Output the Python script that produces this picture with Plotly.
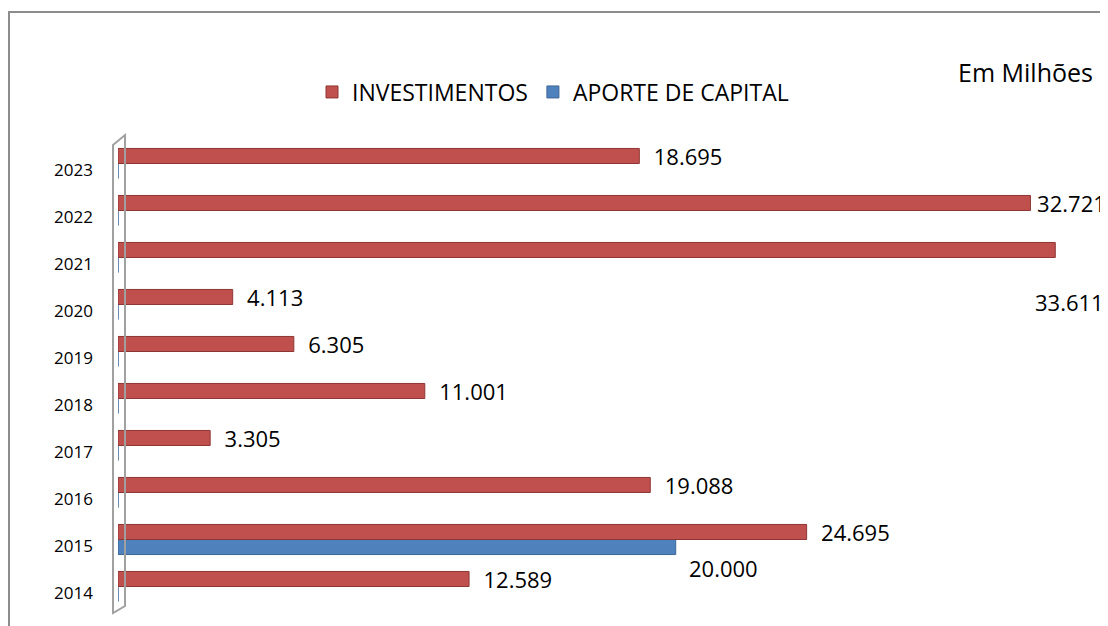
import plotly.graph_objects as go

anos = ["2014", "2015", "2016", "2017", "2018", "2019", "2020", "2021", "2022", "2023"]
investimentos = [12.589, 24.695, 19.088, 3.305, 11.001, 6.305, 4.113, 33.611, 32.721, 18.695]
aporte_capital = [0, 20.000, 0, 0, 0, 0, 0, 0, 0, 0]
# rotulos que o Excel empurrou para baixo da barra / encostou na barra
rotulo_abaixo_inv = ["2021"]
rotulo_abaixo_apo = ["2015"]
rotulo_justo_inv = ["2022"]

VERMELHO = "#C0504D"
AZUL = "#4F81BD"
FONTE = "Open Sans"

# a pagina tem 8px de margem no body: a figura ocupa 1100x618
W, H = 1100, 618
L, R, T, B = 110, 14, 132, 16
# area do grafico em pixels da janela
X0, X1, Y0, Y1 = 118, 1094, 140, 610


def pp(x, y):
  # pixel da janela -> coordenadas paper
  return (x - X0) / (X1 - X0), (Y1 - y) / (Y1 - Y0)


def rotulo(a, v):
  if a in rotulo_abaixo_inv:
    return ""
  if a in rotulo_justo_inv:
    return "\u2009" + f"{v:.3f}"
  return "\u00a0\u00a0" + f"{v:.3f}"


txt_inv = [rotulo(a, v) for a, v in zip(anos, investimentos)]

fig = go.Figure()
fig.add_trace(go.Bar(
  y=anos, x=aporte_capital, orientation="h", name="APORTE DE CAPITAL",
  marker=dict(color=AZUL, line=dict(color="#3B6696", width=1)),
  legendrank=2, hoverinfo="skip"))
fig.add_trace(go.Bar(
  y=anos, x=investimentos, orientation="h", name="INVESTIMENTOS",
  marker=dict(color=VERMELHO, line=dict(color="#8E3634", width=1)),
  text=txt_inv, textposition="outside", cliponaxis=False, constraintext="none",
  textfont=dict(family=FONTE, size=22, color="#000000"),
  legendrank=1, hoverinfo="skip"))

anots = []
for i, (a, v) in enumerate(zip(anos, investimentos)):
  if a in rotulo_abaixo_inv:
    anots.append(dict(x=v, y=i, text=f"{v:.3f}", showarrow=False, xanchor="left",
                      xshift=-22, yshift=-44, font=dict(family=FONTE, size=22, color="#000000")))
for i, (a, v) in enumerate(zip(anos, aporte_capital)):
  if a in rotulo_abaixo_apo:
    anots.append(dict(x=v, y=i, text=f"{v:.3f}", showarrow=False, xanchor="left",
                      xshift=11, yshift=-28, font=dict(family=FONTE, size=22, color="#000000")))
mx, my = pp(1095, 72)
anots.append(dict(xref="paper", yref="paper", x=mx, y=my, text="Em Milhões", showarrow=False,
                  xanchor="right", yanchor="middle", font=dict(family=FONTE, size=25, color="#000000")))

# parede 3D do eixo
parede = [(113, 145), (125, 135), (125, 606), (113, 613)]
caminho = "M " + " L ".join("%.4f,%.4f" % pp(x, y) for x, y in parede) + " Z"
bx0, by0 = pp(9, 12)
bx1, by1 = pp(1130, 660)

fig.update_layout(
  width=W, height=H, margin=dict(l=L, r=R, t=T, b=B),
  paper_bgcolor="white", plot_bgcolor="white",
  barmode="group", bargap=0.36, bargroupgap=0,
  font=dict(family=FONTE, color="#000000"),
  legend=dict(orientation="h", x=pp(553, 0)[0], xanchor="center", y=pp(0, 92)[1], yanchor="middle",
              font=dict(family=FONTE, size=23), traceorder="normal"),
  xaxis=dict(range=[0, 35], visible=False),
  yaxis=dict(type="category", categoryorder="array", categoryarray=anos,
             range=[-0.5, len(anos) - 0.5], autorange=False,
             showgrid=False, showline=False, zeroline=False, ticks="",
             tickfont=dict(family=FONTE, size=17), ticklabelstandoff=24, ticklabelshift=7),
  annotations=anots,
  shapes=[
    dict(type="rect", xref="paper", yref="paper", x0=bx0, y0=by0, x1=bx1, y1=by1,
         line=dict(color="#8C8C8C", width=2), layer="below"),
    dict(type="path", xref="paper", yref="paper", path=caminho,
         line=dict(color="#A0A0A0", width=2), layer="above"),
  ],
)

fig.write_html("out.html")
